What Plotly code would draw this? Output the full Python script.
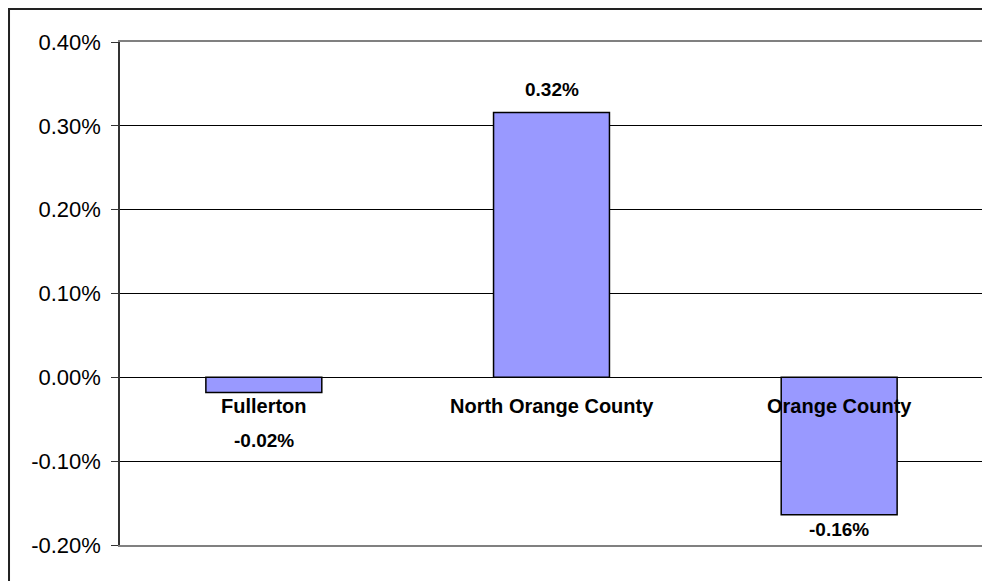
import plotly.graph_objects as go

# population change by area
areas = ["Fullerton", "North Orange County", "Orange County"]
change = [-0.00018, 0.00316, -0.00164]
change_labels = ["-0.02%", "0.32%", "-0.16%"]

y_ticks = [-0.002, -0.001, 0.0, 0.001, 0.002, 0.003, 0.004]
y_tick_labels = ["-0.20%", "-0.10%", "0.00%", "0.10%", "0.20%", "0.30%", "0.40%"]

# style: how far each value label sits from the bar end (px)
label_shift = [-48, 23, -15]

font_family = "Arial, Liberation Sans, sans-serif"

fig = go.Figure()
fig.add_trace(go.Bar(
    x=areas,
    y=change,
    marker=dict(color="#9999FF", line=dict(color="#000000", width=1.5)),
    hoverinfo="skip",
))

annotations = []
for name in areas:
    annotations.append(dict(
        x=name, y=0, xref="x", yref="y", text="<b>%s</b>" % name,
        showarrow=False, yanchor="middle", yshift=-29,
        font=dict(family=font_family, size=20, color="#000000"),
    ))
for name, v, t, s in zip(areas, change, change_labels, label_shift):
    annotations.append(dict(
        x=name, y=v, xref="x", yref="y", text="<b>%s</b>" % t,
        showarrow=False, yanchor="middle", yshift=s,
        font=dict(family=font_family, size=19, color="#000000"),
    ))

# the page body adds an 8px offset, so the figure is sized to fit the window
fig.update_layout(
    width=982,
    height=573,
    margin=dict(l=112, r=7, t=34, b=36),
    paper_bgcolor="white",
    plot_bgcolor="white",
    showlegend=False,
    bargap=0.597,
    annotations=annotations,
    shapes=[
        # outer chart border (runs off the right and bottom edges)
        dict(type="rect", xref="paper", yref="paper",
             x0=-0.1286, x1=1.03, y0=-0.1, y1=1.0656,
             line=dict(color="#222222", width=2), layer="below"),
        # right edge of the plot area
        dict(type="line", xref="paper", yref="paper",
             x0=1, x1=1, y0=0, y1=1,
             line=dict(color="#808080", width=1.5)),
    ],
    xaxis=dict(
        range=[-0.5, 2.5],
        showticklabels=False,
        showgrid=False,
        zeroline=False,
        showline=True,
        mirror=True,
        linecolor="#808080",
        linewidth=1.5,
        ticks="",
    ),
    yaxis=dict(
        range=[-0.002, 0.004],
        tickvals=y_ticks,
        ticktext=y_tick_labels,
        showgrid=True,
        gridcolor="#000000",
        gridwidth=1,
        zeroline=True,
        zerolinecolor="#000000",
        zerolinewidth=1,
        showline=True,
        linecolor="#333333",
        linewidth=1.5,
        ticks="outside",
        ticklen=7,
        tickcolor="#333333",
        ticklabelstandoff=6,
        tickfont=dict(family=font_family, size=22, color="#000000"),
    ),
)

fig.write_html("out.html")
